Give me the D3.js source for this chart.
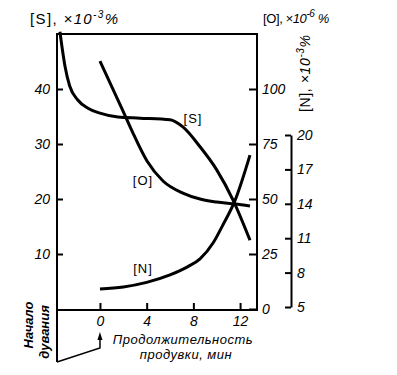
<!DOCTYPE html>
<html>
<head>
<meta charset="utf-8">
<script src="https://cdn.jsdelivr.net/npm/d3@7"></script>
<style>
  body { margin: 0; background: #fff; }
  text { font-family: "Liberation Sans", Arial, sans-serif; fill: #000; }
  .tick text { font-style: italic; font-size: 14px; }
  .tick line { stroke: #000; stroke-width: 2; }
</style>
</head>
<body>
<div id="chart"></div>
<script>
// blowing time, min (negative = before the start of the blow)
const sTime = [-3.43, -3.0, -2.6, -1.9, -1.03, 0, 1.54, 3.43, 6, 7.1, 8.57, 10, 11.4, 12.85];
const sValues = [50.4, 44.2, 40.6, 38.0, 36.5, 35.6, 34.9, 34.7, 34.4, 33.1, 29.5, 25.3, 19.8, 12.5];

const oTime = [0, 1.9, 2.74, 4.03, 5.4, 7.1, 8.57, 10, 11.57, 12.85];
const oValues = [112.7, 90.9, 81, 67.3, 58.2, 52.7, 50, 48.6, 47.7, 46.8];

const nTime = [0, 2, 4, 6, 7.5, 8.57, 9.7, 10.5, 11.57, 12.85];
const nValues = [6.57, 6.75, 7.15, 7.8, 8.5, 9.2, 10.6, 12.1, 14.3, 18.25];

const timeTicks = [0, 4, 8, 12];
const sTicks = [10, 20, 30, 40];
const oTicks = [0, 25, 50, 75, 100];
const nTicks = [5, 8, 11, 14, 17, 20];

const width = 397, height = 375;
const plotLeft = 57, plotRight = 257, plotTop = 34, plotBottom = 309;

const svg = d3.select('#chart').append('svg')
  .attr('width', width)
  .attr('height', height);

const x = d3.scaleLinear().domain([-3.68, 13.45]).range([plotLeft, plotRight]);
const yS = d3.scaleLinear().domain([0, 50]).range([plotBottom, plotTop]);
const yO = d3.scaleLinear().domain([0, 125]).range([plotBottom, plotTop]);
const yN = d3.scaleLinear().domain([5, 20]).range([307, 135]);

// frame
svg.append('path')
  .attr('d', `M${plotLeft},362 V${plotTop} H${plotRight} V${plotBottom + 1} H${plotLeft}`)
  .attr('fill', 'none')
  .attr('stroke', '#000')
  .attr('stroke-width', 2);

// "start of blowing" pointer
svg.append('path')
  .attr('d', `M${plotLeft},362 L${x(0)},348 V337`)
  .attr('fill', 'none')
  .attr('stroke', '#000')
  .attr('stroke-width', 1.5);
svg.append('path')
  .attr('d', `M${x(0) - 2.5},340 L${x(0)},332 L${x(0) + 2.5},340 Z`)
  .attr('fill', '#000');

// axes
const gS = svg.append('g')
  .attr('transform', `translate(${plotLeft},0)`)
  .call(d3.axisLeft(yS).tickValues(sTicks).tickSize(-6).tickPadding(7));
const gT = svg.append('g')
  .attr('transform', `translate(0,${plotBottom + 1})`)
  .call(d3.axisBottom(x).tickValues(timeTicks).tickSize(-7).tickPadding(6));
const gO = svg.append('g')
  .attr('transform', `translate(${plotRight},0)`)
  .call(d3.axisRight(yO).tickValues(oTicks).tickSize(-8).tickPadding(5));
const gN = svg.append('g')
  .attr('transform', `translate(291,0)`)
  .call(d3.axisRight(yN).tickValues(nTicks).tickSize(-6).tickSizeOuter(0).tickPadding(6));

[gS, gT, gO].forEach(g => g.select('.domain').remove());
gN.select('.domain').attr('stroke-width', 2);
[gS, gT, gO, gN].forEach(g => g.attr('font-size', null).attr('font-family', null));

// curves
const line = d3.line()
  .x(d => x(d[0]))
  .curve(d3.curveMonotoneX);

const curves = [
  { pts: d3.zip(sTime, sValues), y: yS },
  { pts: d3.zip(oTime, oValues), y: yO },
  { pts: d3.zip(nTime, nValues), y: yN }
];
curves.forEach(c => {
  svg.append('path')
    .attr('d', line.y(d => c.y(d[1]))(c.pts))
    .attr('fill', 'none')
    .attr('stroke', '#000')
    .attr('stroke-width', 3);
});

// curve labels
const labels = [['[S]', 193, 123], ['[O]', 143, 185], ['[N]', 143, 273]];
svg.selectAll('.clabel')
  .data(labels)
  .enter()
  .append('text')
  .attr('x', d => d[1])
  .attr('y', d => d[2])
  .attr('text-anchor', 'middle')
  .style('font-size', '13px')
  .style('letter-spacing', '1px')
  .text(d => d[0]);

// axis titles
function unitTitle(sel, name, power, pct) {
  sel.append('tspan').text(name + ', ');
  sel.append('tspan').style('font-style', 'italic').text('×10');
  sel.append('tspan').style('font-style', 'italic').style('font-size', '10px').attr('dy', -6).text(power);
  sel.append('tspan').style('font-style', 'italic').attr('dy', 6).text(pct);
}
svg.append('text').attr('x', 30).attr('y', 24).style('font-size', '15px')
  .attr('textLength', 88).attr('lengthAdjust', 'spacing')
  .call(unitTitle, '[S]', '-3', '%');
svg.append('text').attr('x', 263).attr('y', 23).style('font-size', '13px')
  .style('letter-spacing', '-0.4px')
  .call(unitTitle, '[O]', '-6', ' %');
svg.append('text').attr('transform', 'translate(310,112) rotate(-90)').style('font-size', '14px')
  .attr('textLength', 77).attr('lengthAdjust', 'spacing')
  .call(unitTitle, '[N]', '-3', '%');

// time axis caption
svg.append('text').attr('x', 183).attr('y', 344).attr('text-anchor', 'middle')
  .style('font-size', '13px').style('font-style', 'italic').style('letter-spacing', '0.5px').text('Продолжительность');
svg.append('text').attr('x', 186).attr('y', 359).attr('text-anchor', 'middle')
  .style('font-size', '13px').style('font-style', 'italic').style('letter-spacing', '0.5px').text('продувки, мин');

// start of blowing caption
svg.append('text').attr('transform', 'translate(33,325) rotate(-90)').attr('text-anchor', 'middle')
  .style('font-size', '13px').style('font-style', 'italic').style('font-weight', 'bold').text('Начало');
svg.append('text').attr('transform', 'translate(49,332) rotate(-90)').attr('text-anchor', 'middle')
  .style('font-size', '13px').style('font-style', 'italic').style('font-weight', 'bold').text('дувания');
</script>
</body>
</html>
